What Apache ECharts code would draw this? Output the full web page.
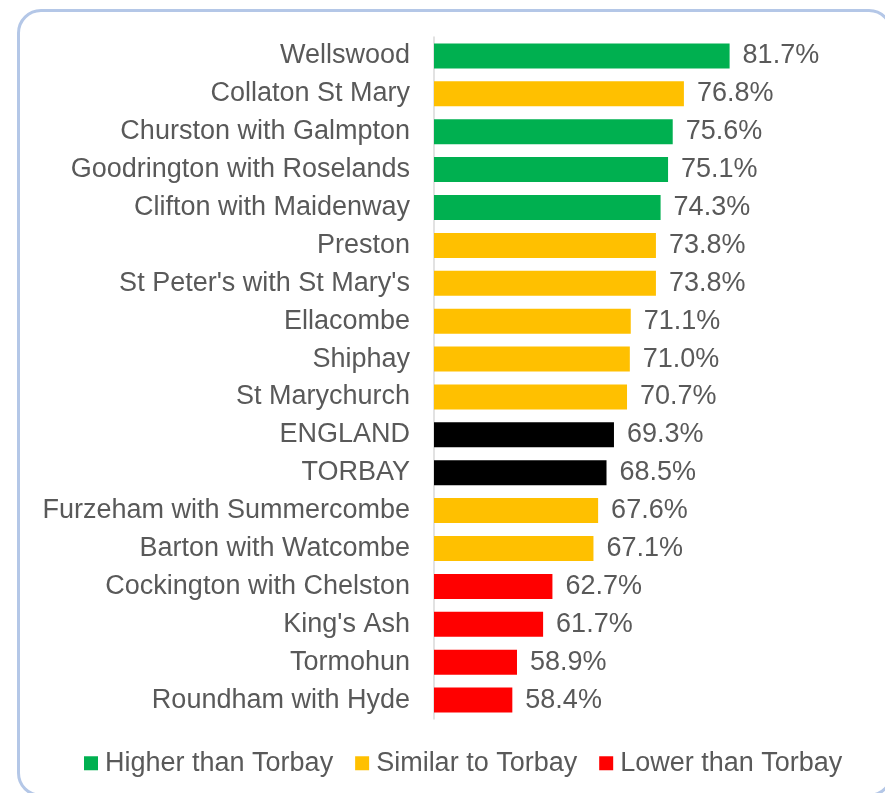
<!DOCTYPE html>
<html>

<head>
  <title>Torbay wards</title>
  <script src="https://cdn.jsdelivr.net/npm/echarts@6/dist/echarts.min.js"></script>
  <style>
    html, body { margin: 0; padding: 0; background: #fff; overflow: hidden; }
    #frame {
      position: absolute;
      left: 17px;
      top: 9px;
      width: 870px;
      height: 782px;
      border: 3px solid #b4c7e7;
      border-radius: 24px;
    }
    #main { position: absolute; left: 0; top: 0; width: 885px; height: 793px; }
  </style>
</head>

<body>
  <div id="frame"></div>
  <div id="main"></div>
  <script>
    // data
    var categories = ['Wellswood', 'Collaton St Mary', 'Churston with Galmpton', 'Goodrington with Roselands',
      'Clifton with Maidenway', 'Preston', "St Peter's with St Mary's", 'Ellacombe', 'Shiphay', 'St Marychurch',
      'ENGLAND', 'TORBAY', 'Furzeham with Summercombe', 'Barton with Watcombe', 'Cockington with Chelston',
      "King's Ash", 'Tormohun', 'Roundham with Hyde'];
    var values = [81.7, 76.8, 75.6, 75.1, 74.3, 73.8, 73.8, 71.1, 71.0, 70.7, 69.3, 68.5, 67.6, 67.1, 62.7, 61.7, 58.9, 58.4];
    var groups = ['higher', 'similar', 'higher', 'higher', 'higher', 'similar', 'similar', 'similar', 'similar', 'similar',
      'benchmark', 'benchmark', 'similar', 'similar', 'lower', 'lower', 'lower', 'lower'];
    var groupNames = { higher: 'Higher than Torbay', similar: 'Similar to Torbay', lower: 'Lower than Torbay', benchmark: 'Benchmark' };
    var colors = { higher: '#00b050', similar: '#ffc000', lower: '#ff0000', benchmark: '#000000' };

    var textColor = '#595959';
    var font = 'Liberation Sans, Arial, sans-serif';

    function makeSeries(key) {
      return {
        name: groupNames[key],
        type: 'bar',
        barWidth: 25,
        barGap: '-100%',
        itemStyle: { color: colors[key] },
        label: {
          show: true,
          position: 'right',
          distance: 13,
          color: textColor,
          fontSize: 27,
          fontFamily: font,
          padding: [3, 0, 0, 0],
          formatter: p => p.value.toFixed(1) + '%'
        },
        data: values.map((v, i) => groups[i] === key ? v : '-')
      };
    }

    var myChart = echarts.init(document.getElementById('main'));
    var option = {
      animation: false,
      grid: {
        left: 434,
        width: 373,
        top: 37,
        height: 682
      },
      legend: {
        data: [groupNames.higher, groupNames.similar, groupNames.lower],
        left: 79,
        top: 735,
        itemWidth: 14,
        itemHeight: 14,
        itemGap: 22,
        icon: 'rect',
        textStyle: { color: textColor, fontSize: 27, fontFamily: font, padding: [0, 0, 0, 2] }
      },
      xAxis: {
        type: 'value',
        min: 50,
        max: 90,
        show: false
      },
      yAxis: {
        type: 'category',
        inverse: true,
        data: categories,
        axisLine: { show: true, lineStyle: { color: '#d9d9d9', width: 1.5 } },
        axisTick: { show: false },
        axisLabel: { interval: 0, color: textColor, fontSize: 27, fontFamily: font, margin: 24, padding: [3, 0, 0, 0] }
      },
      series: ['higher', 'similar', 'lower', 'benchmark'].map(makeSeries)
    };
    myChart.setOption(option);
  </script>
</body>

</html>
